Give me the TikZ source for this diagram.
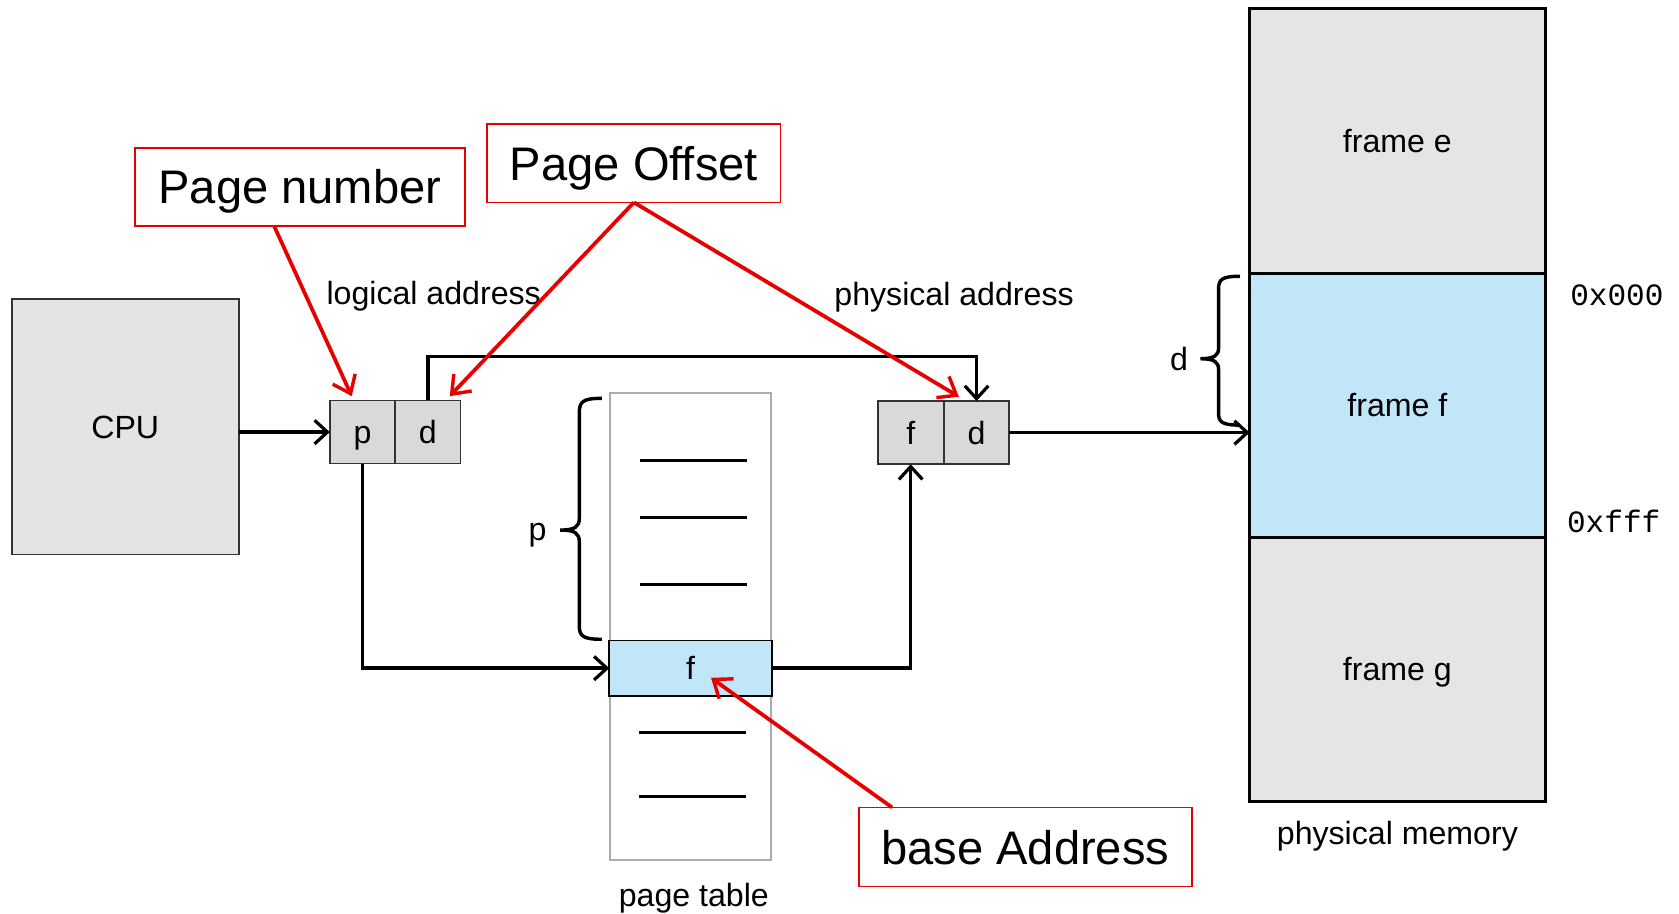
\documentclass[tikz,border=0pt]{standalone}
\usepackage{fontspec}
\setmainfont{Liberation Sans}
\newfontfamily\hexfont{Liberation Mono}
\usetikzlibrary{arrows.meta,calc}
\definecolor{cellgray}{RGB}{217,217,217}
\definecolor{memgray}{RGB}{229,229,229}
\definecolor{cpugray}{RGB}{228,228,228}
\definecolor{rowblue}{RGB}{192,230,248}
\definecolor{callred}{RGB}{232,0,0}
\definecolor{tablegray}{RGB}{172,172,172}

\begin{document}
\begin{tikzpicture}[x=0.5pt,y=-0.5pt,
  every node/.style={inner sep=0pt,outer sep=0pt},
  small/.style={font=\fontsize{15}{18}\selectfont,text height=10.9pt,text depth=0pt},
  big/.style={font=\fontsize{22}{26}\selectfont,text height=16pt,text depth=0pt},
  hex/.style={font=\hexfont\fontsize{14.5}{17}\selectfont},
  cell/.style={draw=black!80,line width=0.75pt,fill=cellgray,minimum width=30.5pt,minimum height=29.5pt,small},
  frame/.style={draw=black,line width=1.4pt,minimum width=138pt,minimum height=123.5pt,small},
  callbox/.style={draw=callred,line width=0.8pt,fill=white,big},
  conn/.style={draw=black,line width=1.6pt,-{Straight Barb[length=6pt,width=11pt,line width=1.5pt]}},
  callout/.style={draw=callred,line width=1.75pt,-{Straight Barb[length=7.5pt,width=11.5pt,line width=1.6pt]}},
  bracket/.style={draw=black,line width=1.6pt},
  entry/.style={draw=black,line width=1.4pt}]

\useasboundingbox (0,0) rectangle (1568,853);

% CPU
\node[draw=black!80,line width=0.75pt,fill=cpugray,minimum width=106pt,minimum height=119.5pt,small] (cpu) at (117,398.5) {CPU};

% logical address cells
\node[cell] (p) at (338.5,403.5) {p};
\node[cell] (d1) at (399.5,403.5) {d};
\node[small] (lbl) at (405,273) {logical address};

% physical address cells
\node[cell] (f) at (850.5,404) {f};
\node[cell] (d2) at (912,404) {d};
\node[small] (pal) at (891,274) {physical address};

% page table
\node[draw=tablegray,line width=1pt,fill=white,minimum width=75pt,minimum height=218pt] (ptable) at (645,585) {};
\draw[entry] (598,430) -- (698,430);
\draw[entry] (598,483) -- (698,483);
\draw[entry] (598,546) -- (698,546);
\draw[entry] (597,684) -- (697,684);
\draw[entry] (597,744) -- (697,744);
\node[draw=black,line width=0.75pt,fill=rowblue,minimum width=76pt,minimum height=26pt,small] (frow) at (645,624) {f};
\node[small] (ptl) at (648,836) {page table};

% p brace
\draw[bracket] (562,372) .. controls (544,372) and (541,375) .. (541,386) -- (541,484) .. controls (541,492) and (537,495) .. (523,495)
  .. controls (537,495) and (541,498) .. (541,506) -- (541,584) .. controls (541,594) and (544,597) .. (562,597);
\node[small] (plabel) at (502,494) {p};

% physical memory
\node[frame,fill=memgray] (fe) at (1305,131.5) {frame e};
\node[frame,fill=rowblue] (ff) at (1305,378.5) {frame f};
\node[frame,fill=memgray] (fg) at (1305,625) {frame g};
\node[small] (pml) at (1305,778) {physical memory};
\node[hex] (h0) at (1510,276) {0x000};
\node[hex] (h1) at (1507,487) {0xfff};

% d brace
\draw[bracket] (1158,258) .. controls (1141,258) and (1138,261) .. (1138,270) -- (1138,325) .. controls (1138,332) and (1134,335) .. (1121,335)
  .. controls (1134,335) and (1138,338) .. (1138,345) -- (1138,386) .. controls (1138,394) and (1141,397) .. (1158,397);
\node[small] (dlabel) at (1101,335) {d};

% data path
\draw[conn] (cpu.east |- p.west) -- (p.west);
\draw[conn] (d1.north) -- ++(0,-41) -| (d2.north);
\draw[conn] (p.south) |- (frow.west);
\draw[conn] (frow.east) -| (f.south);
\draw[conn] (d2.east) -- (d2.east -| ff.west);

% annotations
\node[callbox,minimum width=154pt,minimum height=36.5pt] (pn) at (280,174.5) {Page number};
\node[callbox,minimum width=137pt,minimum height=36.5pt] (po) at (592,152.5) {Page Offset};
\node[callbox,minimum width=155.5pt,minimum height=37pt] (ba) at (957.5,791) {base Address};

\draw[callout] ($(pn.south west)!0.422!(pn.south east)$) -- ($(p.north)+(-10,-4)$);
\draw[callout] (po.south) -- ($(d1.north east)+(-10,-4)$);
\draw[callout] (po.south) -- ($(d2.north west)+(14,-4)$);
\draw[callout] ($(ba.north west)+(31,0)$) -- ($(frow.center)+(19,9)$);
\end{tikzpicture}
\end{document}
